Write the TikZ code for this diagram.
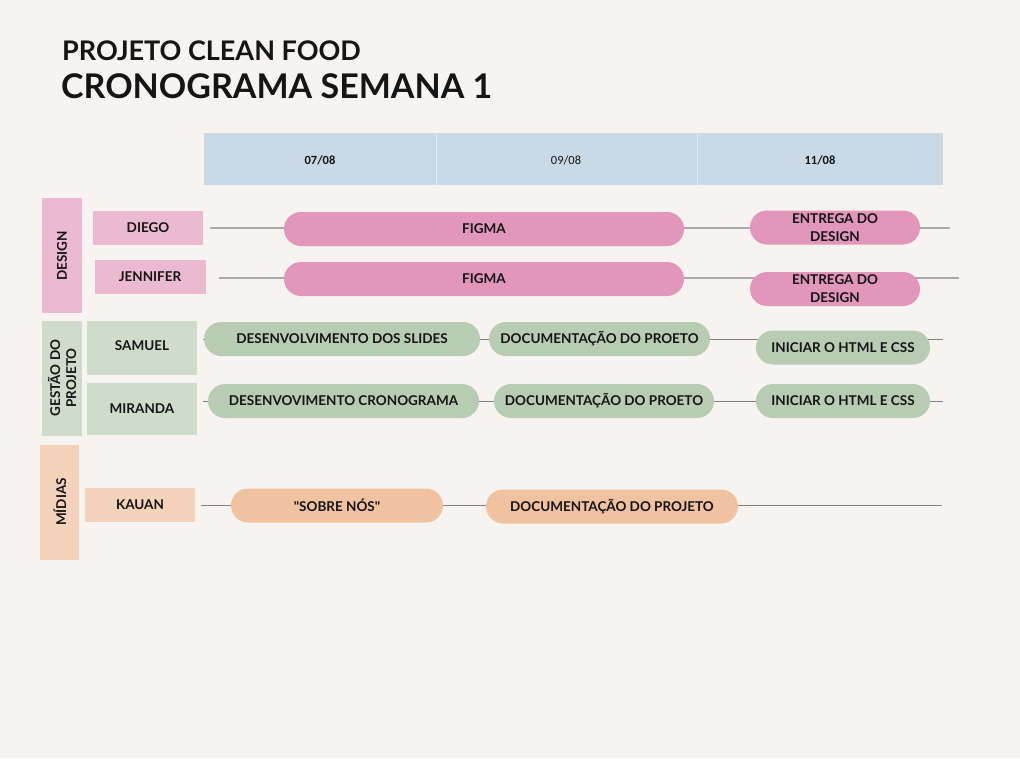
\documentclass[tikz,border=0pt]{standalone}
\usepackage{fontspec}
\setmainfont{Lato}
\newfontfamily\datefont{Carlito}
\usetikzlibrary{backgrounds}
\definecolor{bgc}{HTML}{F7F3F0}
\definecolor{hdr}{HTML}{C9D9E5}
\definecolor{hdrline}{HTML}{E2E9EF}
\definecolor{pinkL}{HTML}{EBB9D0}
\definecolor{pinkD}{HTML}{E196BA}
\definecolor{greenL}{HTML}{D0DCCB}
\definecolor{greenD}{HTML}{B8CBB3}
\definecolor{peachL}{HTML}{F4D3BA}
\definecolor{peachD}{HTML}{F1C29F}
\definecolor{lineA}{HTML}{AAAAAA}
\definecolor{lineB}{HTML}{808080}
\definecolor{ink}{HTML}{151515}
\tikzset{
  lbl/.style={font=\bfseries\fontsize{13.5}{15}\selectfont, text=ink, inner sep=0pt},
  catbox/.style={lbl, rotate=90, align=center},
  pill/.style={lbl, rounded corners=17pt, minimum height=34pt, align=center},
  pinkpill/.style={pill, fill=pinkD},
  greenpill/.style={pill, fill=greenD},
  peachpill/.style={pill, fill=peachD},
  linkA/.style={draw=lineA, line width=1.6pt},
  linkB/.style={draw=lineB, line width=0.9pt},
  datelbl/.style={font=\datefont\fontsize{12.5}{14}\selectfont, text=ink},
}
\begin{document}
\begin{tikzpicture}[x=1pt,y=-1pt]
\begin{scope}[on background layer]
\fill[bgc] (0,0) rectangle (1020,758);
\end{scope}
\useasboundingbox (0,0) rectangle (1020,758);

% titles
\node[anchor=base west, font=\bfseries\fontsize{27}{30}\selectfont, text=ink, inner sep=0pt] (t1) at (62,60) {PROJETO CLEAN FOOD};
\node[anchor=base west, font=\bfseries\fontsize{34}{40}\selectfont, text=ink, inner sep=0pt] (t2) at (61,98) {CRONOGRAMA SEMANA 1};

% header
\fill[hdr] (204,133) rectangle (943,185);
\draw[hdrline, line width=1pt] (436,133) -- (436,185);
\draw[hdrline, line width=1pt] (697,133) -- (697,185);
\node[datelbl, font=\datefont\bfseries\fontsize{12.5}{14}\selectfont] (d1) at (320,160) {07/08};
\node[datelbl] (d2) at (566,160) {09/08};
\node[datelbl, font=\datefont\bfseries\fontsize{12.5}{14}\selectfont] (d3) at (820,160) {11/08};

% categories
\fill[pinkL] (42,198) rectangle (82,313);
\node[catbox] (cdesign) at (62,256) {DESIGN};
\fill[greenL] (42,321) rectangle (82,436);
\node[catbox, font=\bfseries\fontsize{13.5}{16}\selectfont] (cgestao) at (62,378) {GESTÃO DO\\PROJETO};
\fill[peachL] (40,445) rectangle (79,560);
\node[catbox] (cmidias) at (60,502) {MÍDIAS};

% names
\fill[pinkL] (93,211) rectangle (203,245);
\node[lbl] (diego) at (148,228) {DIEGO};
\fill[pinkL] (95,260) rectangle (206,294);
\node[lbl] (jennifer) at (150,277) {JENNIFER};
\fill[greenL] (87,321) rectangle (197,375);
\node[lbl] (samuel) at (142,346) {SAMUEL};
\fill[greenL] (87,383) rectangle (197,435);
\node[lbl] (miranda) at (142,409) {MIRANDA};
\fill[peachL] (85,488) rectangle (195,522);
\node[lbl] (kauan) at (140,505) {KAUAN};

% line end coordinates
\coordinate (s1) at (210,228);  \coordinate (e1) at (950,228);
\coordinate (s2) at (219,278);  \coordinate (e2) at (959,278);
\coordinate (s3) at (203,339);  \coordinate (e3) at (943,339);
\coordinate (s4) at (203,401);  \coordinate (e4) at (943,401);
\coordinate (s5) at (201,505);  \coordinate (e5) at (942,505);

% pills
\node[pinkpill, minimum width=400pt] (figma1) at (484,229) {FIGMA};
\node[pinkpill, minimum width=170pt, font=\bfseries\fontsize{13.5}{18}\selectfont] (entrega1) at (835,227.5) {ENTREGA DO\\DESIGN};
\node[pinkpill, minimum width=400pt] (figma2) at (484,279) {FIGMA};
\node[pinkpill, minimum width=170pt, font=\bfseries\fontsize{13.5}{18}\selectfont] (entrega2) at (835,289) {ENTREGA DO\\DESIGN};

\node[greenpill, minimum width=276pt] (slides) at (342,339) {DESENVOLVIMENTO DOS SLIDES};
\node[greenpill, minimum width=221pt] (doc1) at (599.5,339) {DOCUMENTAÇÃO DO PROETO};
\node[greenpill, minimum width=174pt] (html1) at (843,347.5) {INICIAR O HTML E CSS};
\node[greenpill, minimum width=271pt] (crono) at (343.5,401) {DESENVOVIMENTO CRONOGRAMA};
\node[greenpill, minimum width=220pt] (doc2) at (604,401) {DOCUMENTAÇÃO DO PROETO};
\node[greenpill, minimum width=174pt] (html2) at (843,401) {INICIAR O HTML E CSS};

\node[peachpill, minimum width=212pt] (sobre) at (337,505.5) {\textquotedbl SOBRE NÓS\textquotedbl};
\node[peachpill, minimum width=252pt] (doc3) at (612,506.5) {DOCUMENTAÇÃO DO PROJETO};

\begin{scope}[on background layer]
\draw[linkA] (s1) -- (e1);
\draw[linkA] (s2) -- (e2);
\draw[linkB] (s3) -- (e3);
\draw[linkB] (s4) -- (e4);
\draw[linkB] (s5) -- (e5);
\end{scope}
\end{tikzpicture}
\end{document}
